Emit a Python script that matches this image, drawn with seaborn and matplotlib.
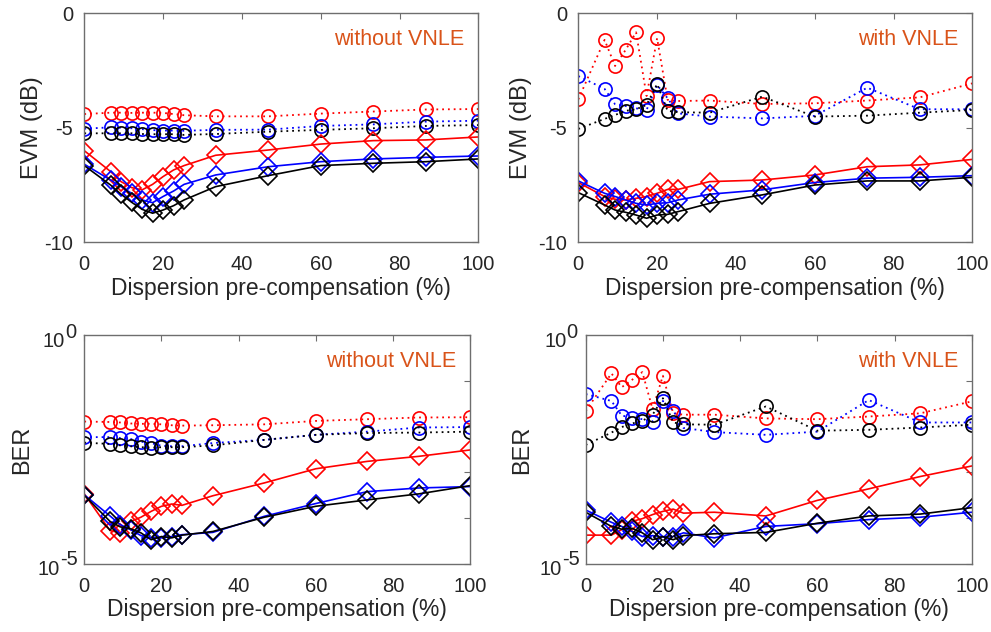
import numpy as np
import pandas as pd
import matplotlib
matplotlib.use("Agg")
import matplotlib.pyplot as plt
import seaborn as sns

sns.set_style("white")
plt.rcParams['font.family'] = ['Liberation Sans', 'DejaVu Sans']

# ---------------- data ----------------
precomp = [0, 6.67, 9.33, 12, 14.67, 17.33, 20, 22.67, 25.33, 33.33, 46.67, 60, 73.33, 86.67, 100]

# EVM (dB) without VNLE
evm_wo_red_c = [-4.40, -4.34, -4.34, -4.35, -4.34, -4.34, -4.35, -4.40, -4.45, -4.50, -4.50, -4.38, -4.29, -4.20, -4.18]
evm_wo_blue_c = [-5.04, -4.98, -5.00, -5.02, -5.06, -5.10, -5.12, -5.12, -5.13, -5.09, -5.08, -4.92, -4.85, -4.73, -4.69]
evm_wo_black_c = [-5.24, -5.24, -5.24, -5.24, -5.27, -5.28, -5.28, -5.28, -5.31, -5.27, -5.17, -5.09, -5.02, -4.92, -4.88]
evm_wo_red_d = [-6.00, -6.91, -7.35, -7.61, -7.71, -7.47, -7.13, -6.84, -6.65, -6.20, -5.97, -5.71, -5.56, -5.53, -5.40]
evm_wo_blue_d = [-6.59, -7.28, -7.57, -7.86, -8.15, -8.27, -8.00, -7.76, -7.47, -7.06, -6.70, -6.48, -6.36, -6.29, -6.23]
evm_wo_black_d = [-6.65, -7.50, -7.90, -8.25, -8.56, -8.73, -8.59, -8.40, -8.15, -7.57, -7.09, -6.65, -6.55, -6.48, -6.36]

# EVM (dB) with VNLE
evm_w_red_c = [-3.76, -1.16, -2.30, -1.60, -0.83, -3.61, -1.09, -3.78, -3.83, -3.81, -3.96, -3.93, -3.81, -3.67, -3.06]
evm_w_blue_c = [-2.74, -3.30, -3.97, -4.05, -4.15, -4.22, -3.13, -3.71, -4.37, -4.51, -4.59, -4.48, -3.25, -4.19, -4.19]
evm_w_black_c = [-5.05, -4.61, -4.44, -4.26, -4.19, -4.00, -3.09, -4.26, -4.32, -4.34, -3.64, -4.51, -4.47, -4.34, -4.22]
evm_w_red_d = [-7.39, -8.00, -8.12, -8.15, -8.08, -8.00, -7.86, -7.69, -7.69, -7.35, -7.28, -7.06, -6.70, -6.62, -6.38]
evm_w_blue_d = [-7.32, -7.86, -8.00, -8.15, -8.30, -8.37, -8.30, -8.27, -8.15, -7.90, -7.71, -7.39, -7.20, -7.16, -7.09]
evm_w_black_d = [-7.83, -8.37, -8.59, -8.69, -8.81, -8.95, -8.81, -8.78, -8.66, -8.30, -7.93, -7.50, -7.32, -7.32, -7.16]

# BER without VNLE
ber_wo_red_c = [0.0129, 0.0126, 0.0123, 0.0117, 0.0115, 0.0115, 0.0112, 0.0107, 0.0105, 0.0107, 0.0112, 0.0133, 0.0145, 0.0158, 0.0160]
ber_wo_blue_c = [0.00589, 0.00589, 0.00562, 0.00537, 0.00468, 0.00437, 0.00380, 0.00372, 0.00372, 0.00437, 0.00513, 0.00661, 0.00776, 0.00955, 0.00977]
ber_wo_black_c = [0.00447, 0.00417, 0.00389, 0.00372, 0.00355, 0.00347, 0.00355, 0.00355, 0.00355, 0.00389, 0.00513, 0.00661, 0.00724, 0.00741, 0.00776]
ber_wo_red_d = [3.39e-4, 5.37e-5, 4.79e-5, 8.51e-5, 1.05e-4, 1.41e-4, 1.82e-4, 2.04e-4, 1.91e-4, 3.09e-4, 5.89e-4, 1.20e-3, 1.74e-3, 2.24e-3, 3.09e-3]
ber_wo_blue_d = [3.24e-4, 1.12e-4, 7.24e-5, 5.62e-5, 4.17e-5, 3.72e-5, 3.72e-5, 3.98e-5, 4.37e-5, 4.90e-5, 1.10e-4, 2.09e-4, 3.80e-4, 4.57e-4, 4.90e-4]
ber_wo_black_d = [3.16e-4, 8.51e-5, 6.46e-5, 5.89e-5, 4.79e-5, 3.39e-5, 3.98e-5, 3.72e-5, 4.27e-5, 5.13e-5, 1.05e-4, 1.82e-4, 2.51e-4, 3.39e-4, 5.13e-4]

# BER with VNLE
ber_w_red_c = [0.0219, 0.145, 0.0724, 0.105, 0.155, 0.0240, 0.129, 0.0195, 0.0182, 0.0182, 0.0151, 0.0145, 0.0166, 0.0195, 0.0355]
ber_w_blue_c = [0.0513, 0.0363, 0.0174, 0.0158, 0.0145, 0.0129, 0.0363, 0.0224, 0.00933, 0.00759, 0.00661, 0.00776, 0.0380, 0.0123, 0.0123]
ber_w_black_c = [0.00398, 0.00741, 0.00977, 0.0117, 0.0133, 0.0182, 0.0417, 0.0123, 0.0112, 0.0110, 0.0275, 0.00813, 0.00851, 0.00955, 0.0110]
ber_w_red_d = [4.27e-5, 4.27e-5, 5.62e-5, 8.51e-5, 9.77e-5, 1.20e-4, 1.41e-4, 1.58e-4, 1.29e-4, 1.35e-4, 1.12e-4, 2.45e-4, 4.37e-4, 8.13e-4, 1.38e-3]
ber_w_blue_d = [1.51e-4, 8.13e-5, 6.61e-5, 5.13e-5, 3.98e-5, 4.17e-5, 3.89e-5, 3.98e-5, 4.79e-5, 3.72e-5, 6.61e-5, 7.59e-5, 9.33e-5, 1.05e-4, 1.35e-4]
ber_w_black_d = [1.35e-4, 6.61e-5, 5.75e-5, 6.03e-5, 4.79e-5, 3.39e-5, 3.98e-5, 3.39e-5, 4.17e-5, 4.57e-5, 4.90e-5, 7.76e-5, 1.12e-4, 1.23e-4, 1.70e-4]

xlabel = "Dispersion pre-compensation (%)"
panel_notes = ["without VNLE", "with VNLE", "without VNLE", "with VNLE"]
x_ticks = [0, 20, 40, 60, 80, 100]
evm_ticks = [-10, -5, 0]
ber_ticks = [1e-5, 1e-4, 1e-3, 1e-2, 1e-1, 1]
ber_tick_exps = [(1, "0"), (1e-5, "-5")]

# ---------------- figure ----------------
W, H = 991, 632
fig = plt.figure(figsize=(W / 100, H / 100), dpi=100)

def px_axes(l, t, r, b):
    return fig.add_axes([l / W, 1 - b / H, (r - l) / W, (b - t) / H])

axes = [
    px_axes(84.3, 13.3, 478.3, 242.3),
    px_axes(578.3, 13.3, 972.3, 242.3),
    px_axes(84.3, 335, 470, 564),
    px_axes(585.7, 335, 971.7, 564),
]
ylabel_x = [-0.104, -0.117, -0.133, -0.137]

colors = {"red": "#ff0000", "blue": "#0000ff", "black": "#000000"}
panels = [
    (evm_wo_red_c, evm_wo_blue_c, evm_wo_black_c, evm_wo_red_d, evm_wo_blue_d, evm_wo_black_d),
    (evm_w_red_c, evm_w_blue_c, evm_w_black_c, evm_w_red_d, evm_w_blue_d, evm_w_black_d),
    (ber_wo_red_c, ber_wo_blue_c, ber_wo_black_c, ber_wo_red_d, ber_wo_blue_d, ber_wo_black_d),
    (ber_w_red_c, ber_w_blue_c, ber_w_black_c, ber_w_red_d, ber_w_blue_d, ber_w_black_d),
]

txt_color = "#262626"
spine_color = "#6e6e6e"
tick_fs = 14.5

for i, (ax, data) in enumerate(zip(axes, panels)):
    rc, bc, kc, rd, bd, kd = data
    circ = [(rc, "red"), (bc, "blue"), (kc, "black")]
    diam = [(rd, "red"), (bd, "blue"), (kd, "black")]
    for ys, c in circ:
        sns.lineplot(x=precomp, y=ys, ax=ax, color=colors[c], linestyle=(0, (1, 2.2)),
                     linewidth=1.3, marker="o", markersize=9.5, markerfacecolor="none",
                     markeredgecolor=colors[c], markeredgewidth=1.2, sort=False)
    for ys, c in diam:
        sns.lineplot(x=precomp, y=ys, ax=ax, color=colors[c], linestyle="-",
                     linewidth=1.2, marker="D", markersize=9.5, markerfacecolor="none",
                     markeredgecolor=colors[c], markeredgewidth=1.2, sort=False)
    ax.set_xlim(0, 100)
    ax.set_xticks(x_ticks)
    if i < 2:
        ax.set_ylim(-10, 0)
        ax.set_yticks(evm_ticks)
        ax.set_yticklabels([str(t) for t in evm_ticks])
        ax.set_ylabel("EVM (dB)", fontsize=17, color=txt_color)
    else:
        ax.set_yscale("log")
        ax.set_ylim(1e-5, 1)
        ax.set_yticks(ber_ticks)
        ax.set_yticklabels([""] * len(ber_ticks))
        ax.yaxis.set_minor_locator(matplotlib.ticker.NullLocator())
        ax.set_ylabel("BER", fontsize=17, color=txt_color)
        # MATLAB-style "10^x" labels with full-size exponents
        for val, ex in ber_tick_exps:
            if ex == "0":
                base_off, sup_off = (-13.9, -8.4), (0.2, -2.4)
            else:
                base_off, sup_off = (-17.5, -7.9), (0.2, -0.7)
            ax.annotate("10", xy=(0, val), xycoords=("axes fraction", "data"),
                        xytext=base_off, textcoords="offset points",
                        ha="right", va="baseline", fontsize=tick_fs, color=txt_color,
                        annotation_clip=False)
            ax.annotate(ex, xy=(0, val), xycoords=("axes fraction", "data"),
                        xytext=(base_off[0] + sup_off[0], sup_off[1]),
                        textcoords="offset points",
                        ha="left", va="baseline", fontsize=tick_fs, color=txt_color,
                        annotation_clip=False)
    ax.yaxis.set_label_coords(ylabel_x[i], 0.5)
    ax.set_xlabel(xlabel, fontsize=16.5, color=txt_color, labelpad=2)
    ax.tick_params(axis="x", which="both", pad=9)
    ax.tick_params(axis="y", which="both", pad=8)
    ax.tick_params(axis="both", which="both", direction="in", length=4, width=0.8,
                   top=True, right=True, labelsize=tick_fs, colors=spine_color,
                   labelcolor=txt_color)
    for s in ax.spines.values():
        s.set_color(spine_color)
        s.set_linewidth(1.0)
        s.set_visible(True)
    ax.grid(False)
    ax.text(0.965, 0.93, panel_notes[i], transform=ax.transAxes, ha="right", va="top",
            fontsize=15.5, color="#d95319")

fig.savefig("out.png", dpi=100)
